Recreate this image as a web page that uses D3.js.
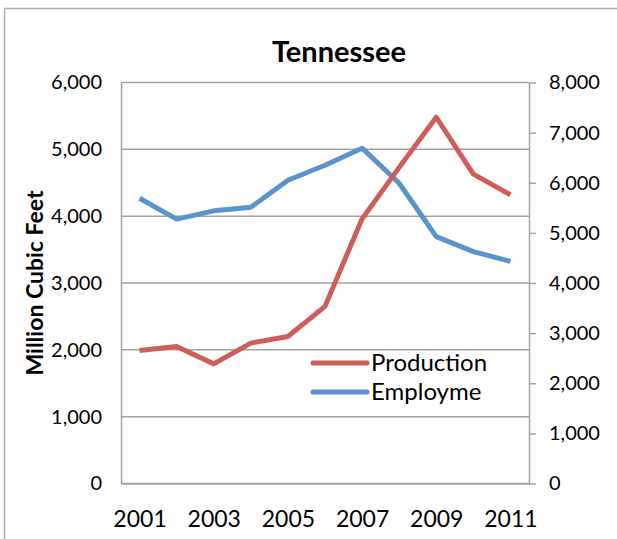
<!DOCTYPE html>
<html>
<head>
<meta charset="utf-8">
<script src="https://cdn.jsdelivr.net/npm/d3@7"></script>
<style>
  body { margin: 0; background: #fff; }
  svg text { font-family: Lato, "Open Sans", sans-serif; fill: #000; }
</style>
</head>
<body>
<div id="chart"></div>
<script>
// data
var years = [2001, 2002, 2003, 2004, 2005, 2006, 2007, 2008, 2009, 2010, 2011];
var production = [1990, 2050, 1790, 2100, 2200, 2650, 3960, 4730, 5480, 4630, 4320];
var employment = [5690, 5275, 5440, 5510, 6050, 6350, 6690, 5990, 4925, 4625, 4430];
var yearLabels = [2001, 2003, 2005, 2007, 2009, 2011];
var leftTicks = [0, 1000, 2000, 3000, 4000, 5000, 6000];
var rightTicks = [0, 1000, 2000, 3000, 4000, 5000, 6000, 7000, 8000];

var width = 617, height = 539;
var plot = {left: 121, right: 529, top: 82.5, bottom: 483.5};

var red = "#CD5F5A", blue = "#5B94CD", grid = "#A3A3A3";

var svg = d3.select("#chart").append("svg")
    .attr("width", width)
    .attr("height", height);

// outer frame of the chart object
svg.append("rect")
    .attr("x", 4.5).attr("y", 8.5)
    .attr("width", 700).attr("height", 600)
    .attr("fill", "none")
    .attr("stroke", "#B0B0B0")
    .attr("stroke-width", 1.5);

var x = d3.scalePoint()
    .domain(years)
    .range([plot.left, plot.right])
    .padding(0.5);

var yLeft = d3.scaleLinear().domain([0, 6000]).range([plot.bottom, plot.top]);
var yRight = d3.scaleLinear().domain([0, 8000]).range([plot.bottom, plot.top]);

var fmt = d3.format(",");

// gridlines
svg.append("g")
    .selectAll("line")
    .data(leftTicks)
    .enter().append("line")
    .attr("x1", plot.left).attr("x2", plot.right)
    .attr("y1", d => yLeft(d)).attr("y2", d => yLeft(d))
    .attr("stroke", grid)
    .attr("stroke-width", 1.5);

// left axis (labels only, line)
var leftAxis = svg.append("g")
    .attr("transform", "translate(" + plot.left + ",0)")
    .call(d3.axisLeft(yLeft).tickValues(leftTicks).tickFormat(fmt).tickSize(0).tickPadding(19));
leftAxis.select(".domain").attr("stroke", grid).attr("stroke-width", 1.5);
leftAxis.selectAll("text").style("font-size", "20px").style("font-family", "Lato, sans-serif");

// right axis with outside ticks
var rightAxis = svg.append("g")
    .attr("transform", "translate(" + plot.right + ",0)")
    .call(d3.axisRight(yRight).tickValues(rightTicks).tickFormat(fmt).tickSizeInner(7).tickSizeOuter(0).tickPadding(13));
rightAxis.select(".domain").attr("stroke", grid).attr("stroke-width", 1.5);
rightAxis.selectAll(".tick line").attr("stroke", grid).attr("stroke-width", 1.5);
rightAxis.selectAll("text").style("font-size", "20px").style("font-family", "Lato, sans-serif");

// bottom axis
var bottomAxis = svg.append("g")
    .attr("transform", "translate(0," + plot.bottom + ")")
    .call(d3.axisBottom(x).tickValues(yearLabels).tickSize(0).tickPadding(27));
bottomAxis.select(".domain").attr("stroke", grid).attr("stroke-width", 1.5);
bottomAxis.selectAll("text").style("font-size", "23px").style("font-family", "Lato, sans-serif");

// lines
var lineLeft = d3.line()
    .x((d, i) => x(years[i]))
    .y(d => yLeft(d));
var lineRight = d3.line()
    .x((d, i) => x(years[i]))
    .y(d => yRight(d));

svg.append("path")
    .datum(employment)
    .attr("d", lineRight)
    .attr("fill", "none")
    .attr("stroke", blue)
    .attr("stroke-width", 5)
    .attr("stroke-linejoin", "round");

svg.append("path")
    .datum(production)
    .attr("d", lineLeft)
    .attr("fill", "none")
    .attr("stroke", red)
    .attr("stroke-width", 5)
    .attr("stroke-linejoin", "round");

// title
svg.append("text")
    .attr("x", 339).attr("y", 62)
    .attr("text-anchor", "middle")
    .style("font-size", "29px")
    .style("font-weight", "bold")
    .text("Tennessee");

// y axis title
svg.append("text")
    .attr("transform", "translate(43,283) rotate(-90)")
    .attr("text-anchor", "middle")
    .style("font-size", "23px")
    .style("font-weight", "bold")
    .text("Million Cubic Feet");

// legend
var legendData = [
    {label: "Production", color: red},
    {label: "Employme", color: blue}
];
var legend = svg.selectAll(".legendItem")
    .data(legendData)
    .enter().append("g")
    .attr("class", "legendItem")
    .attr("transform", (d, i) => "translate(313," + (363 + i * 29) + ")");
legend.append("line")
    .attr("x1", 0).attr("x2", 54)
    .attr("stroke", d => d.color)
    .attr("stroke-width", 5)
    .attr("stroke-linecap", "round");
legend.append("text")
    .attr("x", 58).attr("dy", "0.35em")
    .style("font-size", "24px")
    .text(d => d.label);
</script>
</body>
</html>
